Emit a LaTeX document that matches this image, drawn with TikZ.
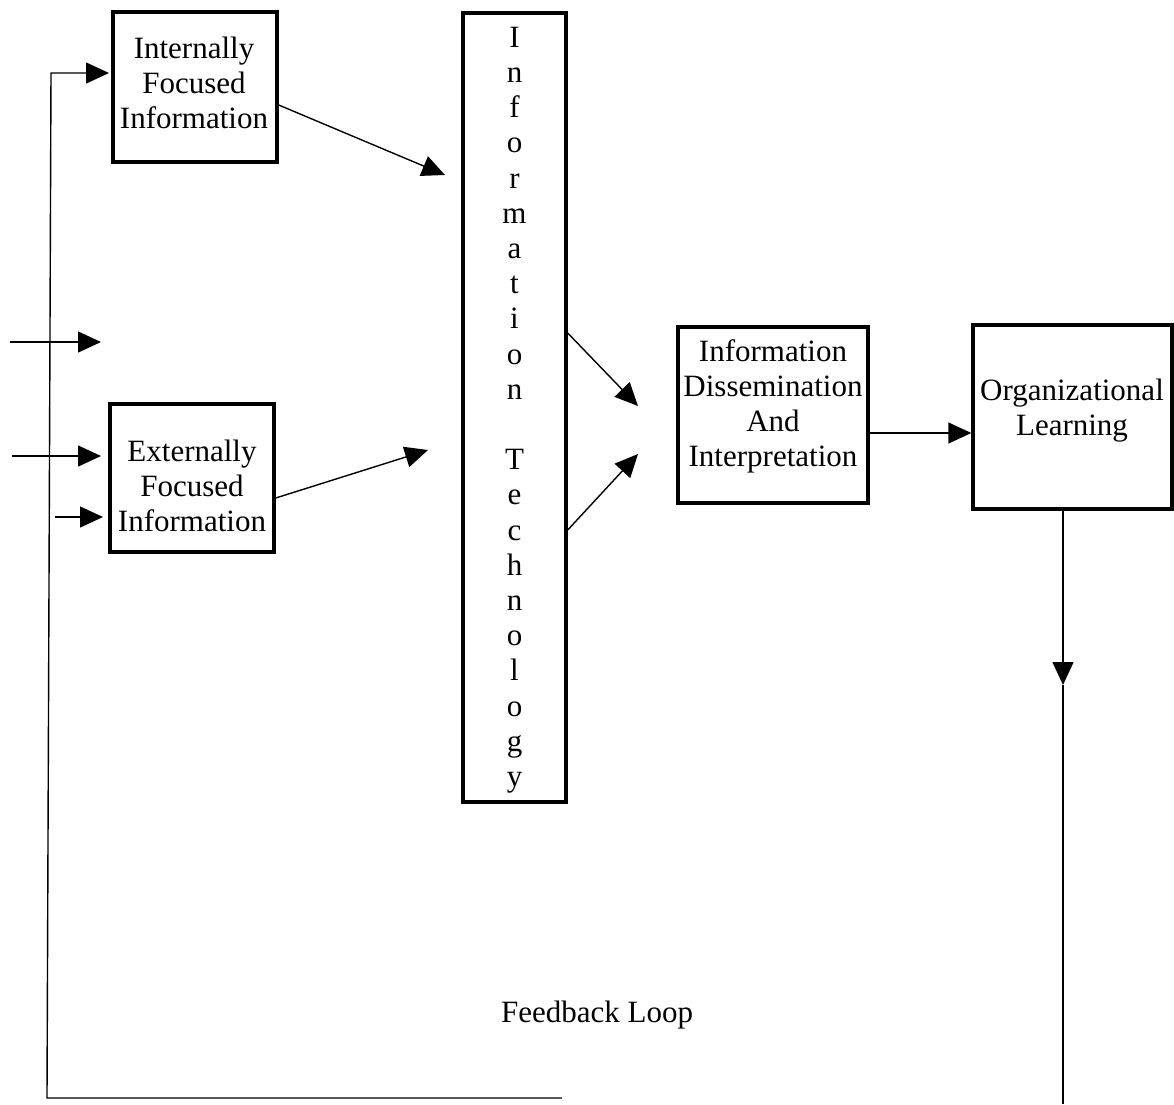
\documentclass[tikz,border=0pt]{standalone}
\usepackage{fontspec}
\setmainfont{Liberation Serif}
\usetikzlibrary{arrows.meta}
\begin{document}
\begin{tikzpicture}[x=1pt,y=-1pt,
  boxed/.style={draw,line width=3.4pt,inner sep=0pt},
  words/.style={align=center,inner sep=0pt,font=\fontsize{31}{35}\selectfont},
  conn/.style={line width=1.4pt,-{Triangle[length=23pt,width=21pt]}},
  plain/.style={line width=1.4pt}]
\useasboundingbox (0,0) rectangle (1174,1104);

% boxes, given by their corners
\node[boxed,minimum width=164pt,minimum height=150pt] (intl) at (195,87) {};
\node[boxed,minimum width=164pt,minimum height=148pt] (extl) at (192,478) {};
\node[boxed,minimum width=103pt,minimum height=789pt] (itbox) at (514.5,407.5) {};
\node[boxed,minimum width=190pt,minimum height=176pt] (diss) at (773,415) {};
\node[boxed,minimum width=199pt,minimum height=184pt] (org) at (1072.5,417) {};

% box texts
\node[words] (intlT) at (194,83) {Internally\\Focused\\Information};
\node[words] (extlT) at (192,486) {Externally\\Focused\\Information};
\node[words] (dissT) at (773,406) {Information\\Dissemination\\And\\Interpretation};
\node[words] (orgT) at (1072,411) {Organizational\\Learning};
\node[words,font=\fontsize{31}{35.2}\selectfont] (itT) at (514.5,410)
  {I\\n\\f\\o\\r\\m\\a\\t\\i\\o\\n\\~\\T\\e\\c\\h\\n\\o\\l\\o\\g\\y};
\node[words] (fbT) at (597,1015) {Feedback Loop};

% free ends of the connectors
\coordinate (tipA) at (445,175);
\coordinate (tipB) at (428,450);
\coordinate (tipC) at (638,406);
\coordinate (tipD) at (638,454);
\coordinate (inA0) at (10,342);
\coordinate (inA1) at (101,342);
\coordinate (inB0) at (12,456);
\coordinate (inB1) at (101,456);
\coordinate (inC0) at (55,517);
\coordinate (inC1) at (103,517);
\coordinate (fbTip) at (1063,685);
\coordinate (fbEnd) at (1063,1104);
\coordinate (lpA) at (562,1098);
\coordinate (lpB) at (47,1098);
\coordinate (lpC) at (51,73);
\coordinate (lpD) at (109,73);

% flows into and out of the technology column
\draw[conn] (intl.east |- 0,105) -- (tipA);
\draw[conn] (extl.east |- 0,498) -- (tipB);
\draw[conn] (itbox.east |- 0,333) -- (tipC);
\draw[conn] (itbox.east |- 0,530) -- (tipD);
\draw[conn] (diss.east |- 0,433) -- (org.west |- 0,433);

% outside inputs
\draw[conn] (inA0) -- (inA1);
\draw[conn] (inB0) -- (inB1);
\draw[conn] (inC0) -- (inC1);

% feedback loop
\draw[conn] (org.south -| fbTip) -- (fbTip);
\draw[plain] (fbTip) -- (fbEnd);
\draw[conn] (lpA) -- (lpB) -- (lpC) -- (lpD);
\end{tikzpicture}
\end{document}
